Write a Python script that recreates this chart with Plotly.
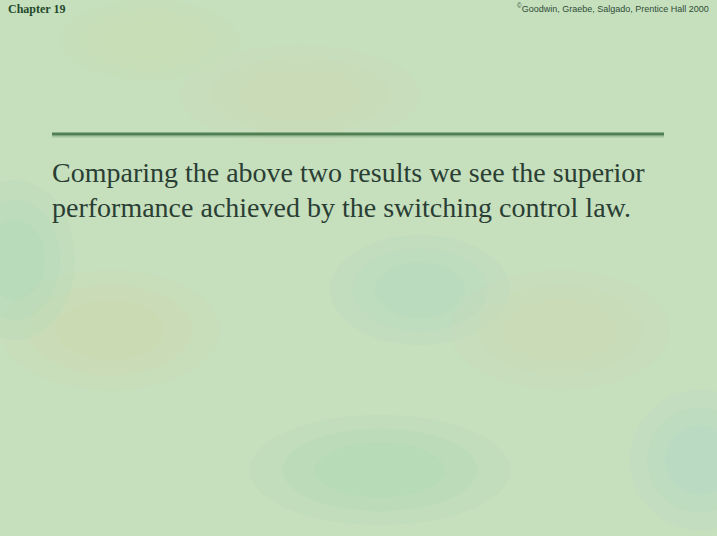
import plotly.graph_objects as go

W, H = 717, 536

# Slide content
header_left = ["Chapter 19"]
header_right = ["<sup>©</sup>Goodwin, Graebe, Salgado, Prentice Hall 2000"]
body_lines = [
    "Comparing the above two results we see the superior",
    "performance achieved by the switching control law.",
]

def px(x):
    return x / W

def py(y):
    return 1 - y / H

fig = go.Figure()

shapes = []
# soft mottled blobs to suggest the textured background (layered for soft edges)
blobs = [
    (110, 330, 110, 60, (212, 212, 165)),
    (300, 95, 120, 50, (215, 215, 170)),
    (420, 290, 90, 55, (165, 215, 200)),
    (15, 260, 60, 80, (155, 210, 180)),
    (560, 330, 110, 60, (212, 215, 172)),
    (700, 460, 70, 70, (165, 212, 205)),
    (380, 470, 130, 55, (160, 210, 175)),
    (150, 40, 90, 40, (205, 225, 175)),
]
for cx, cy, rx, ry, (r, g, b) in blobs:
    for k, s in enumerate([1.0, 0.75, 0.5]):
        shapes.append(dict(type="circle", xref="paper", yref="paper",
                           x0=px(cx - rx * s), x1=px(cx + rx * s),
                           y0=py(cy + ry * s), y1=py(cy - ry * s),
                           fillcolor=f"rgba({r},{g},{b},0.12)", line=dict(width=0), layer="below"))
# title rule (light shadow + dark line)
shapes.append(dict(type="line", xref="paper", yref="paper",
                   x0=px(52), x1=px(664), y0=py(136.5), y1=py(136.5),
                   line=dict(color="rgba(140,180,140,0.6)", width=2)))
shapes.append(dict(type="line", xref="paper", yref="paper",
                   x0=px(52), x1=px(664), y0=py(134), y1=py(134),
                   line=dict(color="#4f7f52", width=3)))

annotations = [
    dict(text=header_left[0], x=px(6), y=py(9), xref="paper", yref="paper",
         xanchor="left", yanchor="middle", showarrow=False,
         font=dict(family="Liberation Serif", size=12, color="#1f4a2c", weight="bold")),
    dict(text=header_right[0], x=px(711), y=py(8), xref="paper", yref="paper",
         xanchor="right", yanchor="middle", showarrow=False,
         font=dict(family="Liberation Sans", size=9, color="#2f4d37")),
]
for i, line in enumerate(body_lines):
    annotations.append(dict(text=line, x=px(50), y=py(173 + 34 * i), xref="paper", yref="paper",
                            xanchor="left", yanchor="middle", showarrow=False,
                            font=dict(family="Liberation Serif", size=28, color="#2a3e34")))

fig.update_layout(
    width=W, height=H,
    margin=dict(l=0, r=0, t=0, b=0),
    paper_bgcolor="#c6dfbd",
    plot_bgcolor="rgba(0,0,0,0)",
    xaxis=dict(visible=False, range=[0, 1]),
    yaxis=dict(visible=False, range=[0, 1]),
    shapes=shapes,
    annotations=annotations,
    showlegend=False,
)

fig.write_html(
    "out.html",
    config={"displayModeBar": False},
    post_script="document.body.style.margin='0';document.body.style.background='#c6dfbd';",
)
